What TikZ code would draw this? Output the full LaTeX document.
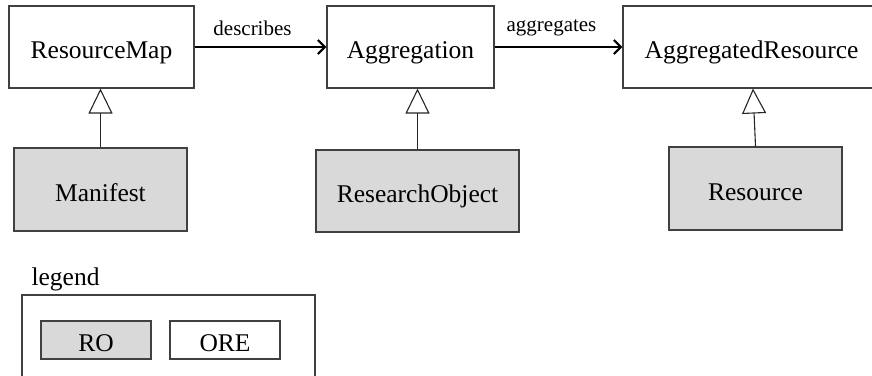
\documentclass[tikz,border=0pt]{standalone}
\usepackage{fontspec}
\setmainfont{Liberation Serif}
\usetikzlibrary{arrows.meta}
\definecolor{rogray}{HTML}{D9D9D9}

\begin{document}
\begin{tikzpicture}[x=1pt,y=-1pt,line width=1.1pt,
    ore node/.style={draw=black!75,fill=white,inner sep=0pt,text height=28pt,text depth=5pt,font=\fontsize{25.5}{30}\selectfont},
    ro node/.style={ore node,fill=rogray},
    assoc/.style={-{Straight Barb[length=7pt,width=14pt,line width=2.2pt]},line width=1.4pt},
    isa/.style={-{Triangle[open,length=25pt,width=24pt,line width=1.1pt]},draw=black!85}]
    \useasboundingbox (0,0) rectangle (872,375);

    \node[ore node,minimum width=185pt,minimum height=82pt] (map) at (101.5,47) {ResourceMap};
    \node[ore node,minimum width=167pt,minimum height=82pt] (agg) at (410.5,47) {Aggregation};
    \node[ore node,minimum width=257pt,minimum height=82pt] (aggres) at (751.5,47) {AggregatedResource};

    \node[ro node,minimum width=173pt,minimum height=83pt] (manifest) at (100.5,189.5) {Manifest};
    \node[ro node,minimum width=203pt,minimum height=82pt] (ro) at (417.5,191) {ResearchObject};
    \node[ro node,minimum width=173pt,minimum height=83pt] (res) at (755.5,188.5) {Resource};

    % legend
    \node[ore node,minimum width=293pt,minimum height=90pt] (legendbox) at (168.5,340) {};
    \node[anchor=west,inner sep=0pt,font=\fontsize{25.5}{30}\selectfont] (legendtext) at (31,279) {legend};
    \node[ro node,minimum width=110pt,minimum height=38pt] (legro) at (96,340) {RO};
    \node[ore node,minimum width=110pt,minimum height=38pt] (legore) at (225,340) {ORE};

    \path[every node/.style={font=\fontsize{21}{25}\selectfont,above=7pt}]
        (map) edge[assoc] node[xshift=-8pt]{describes} (agg)
        (agg) edge[assoc] node[xshift=-7pt]{aggregates} (aggres);

    \draw[isa] (manifest.north) -- (manifest.north |- map.south);
    \draw[isa] (ro.north) -- (ro.north |- agg.south);
    \draw[isa] (res.north) -- ([xshift=1.5pt]aggres.south);
\end{tikzpicture}
\end{document}
